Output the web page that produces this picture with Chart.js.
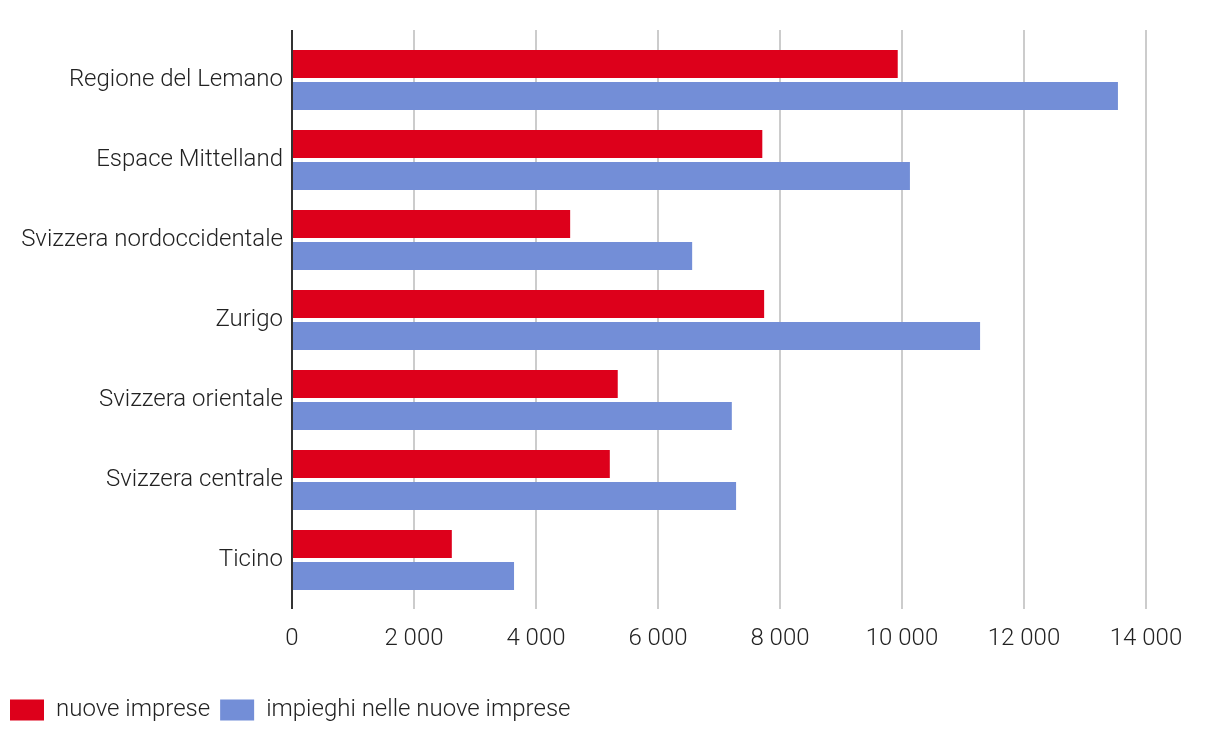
<!DOCTYPE html>
<html>
<head>
<meta charset="utf-8">
<script src="https://cdn.jsdelivr.net/npm/chart.js@4/dist/chart.umd.min.js"></script>
<style>
    html, body { margin: 0; padding: 0; background: #fff; }
    .wrap { width: 1220px; height: 740px; }
</style>
</head>
<body>
<div class="wrap"><canvas class="my-chart" width="1220" height="740"></canvas></div>
<script>
const regions = ["Regione del Lemano", "Espace Mittelland", "Svizzera nordoccidentale", "Zurigo", "Svizzera orientale", "Svizzera centrale", "Ticino"];
const nuoveImprese = [9930, 7710, 4560, 7740, 5340, 5210, 2620];
const impieghi = [13540, 10130, 6560, 11280, 7210, 7280, 3640];
const xTicks = [0, 2000, 4000, 6000, 8000, 10000, 12000, 14000];

const fmt = v => String(v).replace(/\B(?=(\d{3})+(?!\d))/g, ' ');

// gridlines a bit longer than the plot area, axis line on top of the bars
const lines = {
    id: 'lines',
    beforeDatasetsDraw(chart) {
        const { ctx, chartArea, scales } = chart;
        ctx.save();
        ctx.strokeStyle = '#cccccc';
        ctx.lineWidth = 2;
        xTicks.forEach(t => {
            if (t === 0) return;
            const x = Math.round(scales.x.getPixelForValue(t));
            ctx.beginPath();
            ctx.moveTo(x, chartArea.top - 10);
            ctx.lineTo(x, chartArea.bottom + 9);
            ctx.stroke();
        });
        ctx.restore();
    },
    afterDatasetsDraw(chart) {
        const { ctx, chartArea, scales } = chart;
        const x = Math.round(scales.x.getPixelForValue(0));
        ctx.save();
        ctx.strokeStyle = '#333333';
        ctx.lineWidth = 2;
        ctx.beginPath();
        ctx.moveTo(x, chartArea.top - 10);
        ctx.lineTo(x, chartArea.bottom + 9);
        ctx.stroke();
        ctx.restore();
    }
};

Chart.defaults.font.family = 'Roboto';
Chart.defaults.font.weight = 300;
Chart.defaults.color = '#222';

new Chart(document.querySelector(".my-chart"), {
    type: "bar",
    data: {
        labels: regions,
        datasets: [
            { label: "nuove imprese", data: nuoveImprese, backgroundColor: '#dd001b' },
            { label: "impieghi nelle nuove imprese", data: impieghi, backgroundColor: '#738ed7' }
        ]
    },
    options: {
        indexAxis: 'y',
        responsive: false,
        animation: false,
        categoryPercentage: 0.8,
        barPercentage: 0.875,
        layout: { padding: { top: 40, right: 74, bottom: 8, left: 0 } },
        scales: {
            x: {
                min: 0,
                max: 14000,
                afterBuildTicks(scale) { scale.ticks = xTicks.map(v => ({ value: v })); },
                grid: { display: false },
                border: { display: false },
                ticks: {
                    padding: 17,
                    font: { size: 24, weight: 300 },
                    callback: v => fmt(v)
                },
                afterFit(scale) { scale.height = 88; }
            },
            y: {
                grid: { display: false },
                border: { display: false },
                ticks: { padding: 1, font: { size: 24, weight: 300 } },
                afterFit(scale) { scale.width = 292; }
            }
        },
        plugins: {
            legend: {
                position: 'bottom',
                align: 'start',
                labels: {
                    boxWidth: 34,
                    boxHeight: 21,
                    padding: 10,
                    font: { size: 24, weight: 300 }
                }
            },
            tooltip: { enabled: false }
        }
    },
    plugins: [lines]
});
</script>
</body>
</html>
